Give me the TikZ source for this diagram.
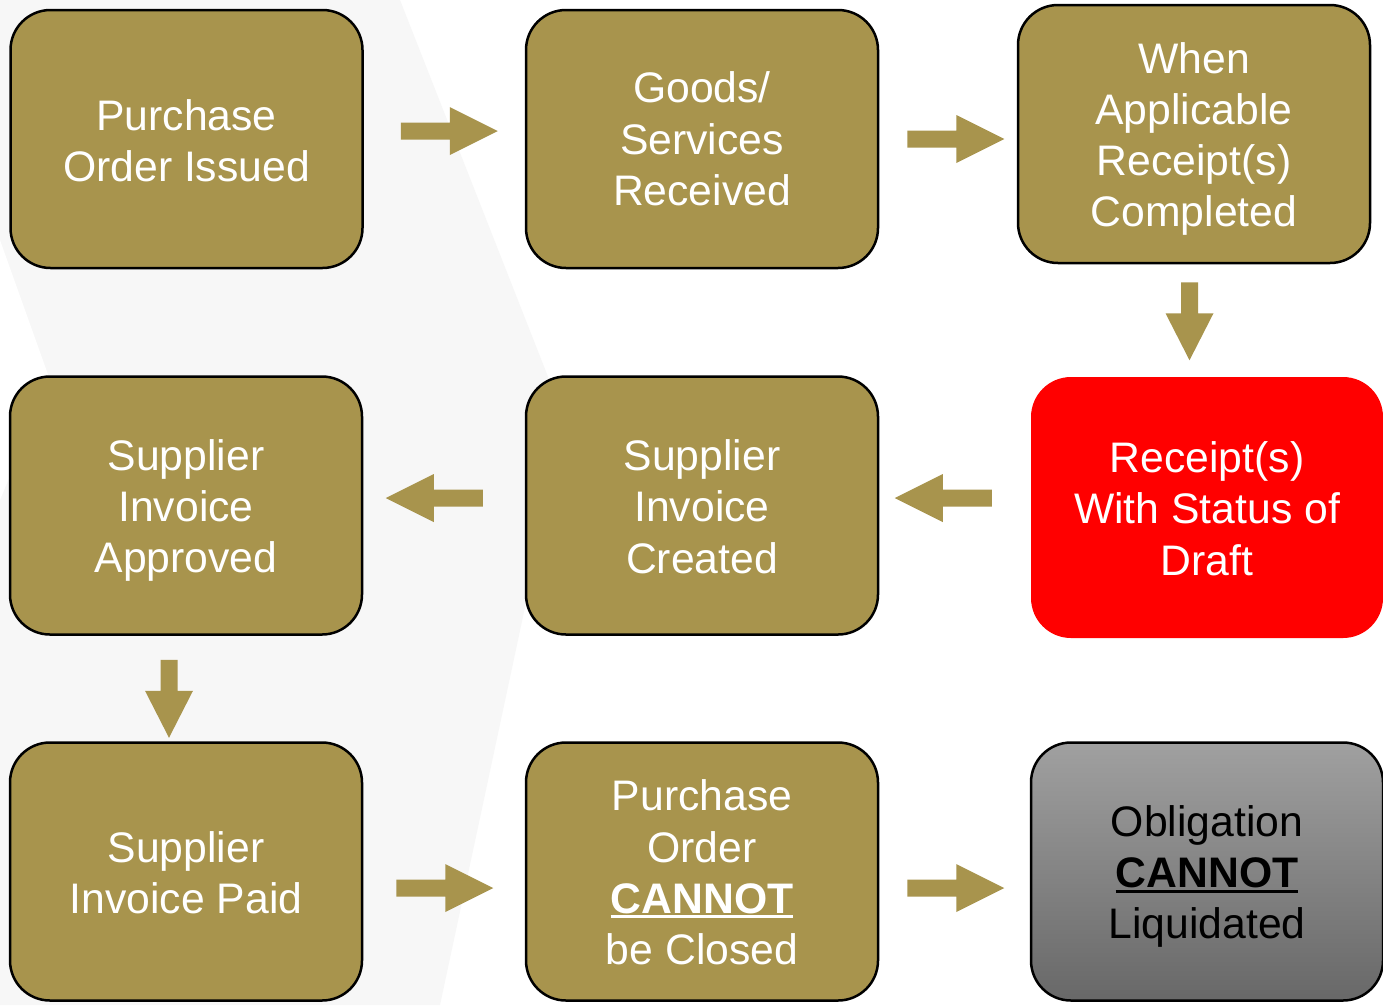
\documentclass[tikz,border=0pt]{standalone}
\usepackage{fontspec}
\setmainfont{Liberation Sans}
\usetikzlibrary{calc}
\definecolor{gold}{RGB}{168,148,77}
\definecolor{bggray}{RGB}{247,247,247}
\definecolor{gtop}{RGB}{160,160,160}
\definecolor{gbot}{RGB}{104,104,104}
\newcommand\ulbold[1]{\setbox0\hbox{\bfseries #1}\rlap{\rule[-5pt]{\wd0}{3pt}}\box0}
\tikzset{
  box/.style={rectangle, rounded corners=40pt, draw=black, line width=2.5pt, fill=gold,
    minimum width=352pt, minimum height=258pt, inner sep=0pt},
  redbox/.style={box, draw=none, fill=red, minimum height=261pt},
  graybox/.style={box, top color=gtop, bottom color=gbot},
  txt/.style={align=center, inner sep=0pt, text=white, font=\fontsize{42.7}{51.3}\selectfont},
  dtxt/.style={txt, text=black},
  rarrow/.pic={\fill[gold] (0,-8.5)--(49,-8.5)--(49,-24)--(97,0)--(49,24)--(49,8.5)--(0,8.5)--cycle;},
  larrow/.pic={\fill[gold] (0,-8.5)--(-49,-8.5)--(-49,-24)--(-97,0)--(-49,24)--(-49,8.5)--(0,8.5)--cycle;},
  darrow/.pic={\fill[gold] (-8.5,0)--(-8.5,31)--(-24,31)--(0,78)--(24,31)--(8.5,31)--(8.5,0)--cycle;}
}
\begin{document}
\begin{tikzpicture}[x=1pt,y=-1pt]
\useasboundingbox (0,0) rectangle (1383,1005);
\fill[white] (0,0) rectangle (1383,1005);
\fill[bggray] (0,0) -- (400,0) -- (565,420) -- (440,1005) -- (0,1005) -- cycle;
\fill[white] (0,240) -- (50,380) -- (0,500) -- cycle;

\node[box] (b1) at (186.5,139) {};
\node[box] (b2) at (702,139) {};
\node[box] (b3) at (1194,134) {};
\node[box] (b4) at (186,505.5) {};
\node[box] (b5) at (702,505.5) {};
\node[redbox] (b6) at (1207,507.5) {};
\node[box] (b7) at (186,871.5) {};
\node[box] (b8) at (702,871.5) {};
\node[graybox] (b9) at (1207,871.5) {};

\node[txt] (t1) at ($(b1.center)+(0,2)$) {Purchase\\Order Issued};
\node[txt] (t2) at ($(b2.center)+(0,0)$) {Goods/\\Services\\Received};
\node[txt] (t3) at ($(b3.center)+(0,5)$) {When\\Applicable\\Receipt(s)\\Completed};
\node[txt] (t4) at ($(b4.center)+(0,5)$) {Supplier\\Invoice\\Approved};
\node[txt] (t5) at ($(b5.center)+(0,1)$) {Supplier\\Invoice\\Created};
\node[txt] (t6) at ($(b6.center)+(0,1)$) {Receipt(s)\\With Status of\\Draft};
\node[txt] (t7) at ($(b7.center)+(0,1)$) {Supplier\\Invoice Paid};
\node[txt] (t8) at ($(b8.center)+(0,1)$) {Purchase\\Order\\\ulbold{CANNOT}\\be Closed};
\node[dtxt] (t9) at ($(b9.center)+(0,5)$) {Obligation\\\ulbold{CANNOT}\\Liquidated};

\pic at ($(b1.east)+(37,-8)$) {rarrow};
\pic at ($(b2.east)+(28,0)$) {rarrow};
\pic at ($(b3.south)+(-4.5,18)$) {darrow};
\pic at ($(b6.west)+(-38,-9.5)$) {larrow};
\pic at ($(b5.west)+(-42,-7.5)$) {larrow};
\pic at ($(b4.south)+(-17,24)$) {darrow};
\pic at ($(b7.east)+(33,16.5)$) {rarrow};
\pic at ($(b8.east)+(28,16.5)$) {rarrow};
\end{tikzpicture}
\end{document}
